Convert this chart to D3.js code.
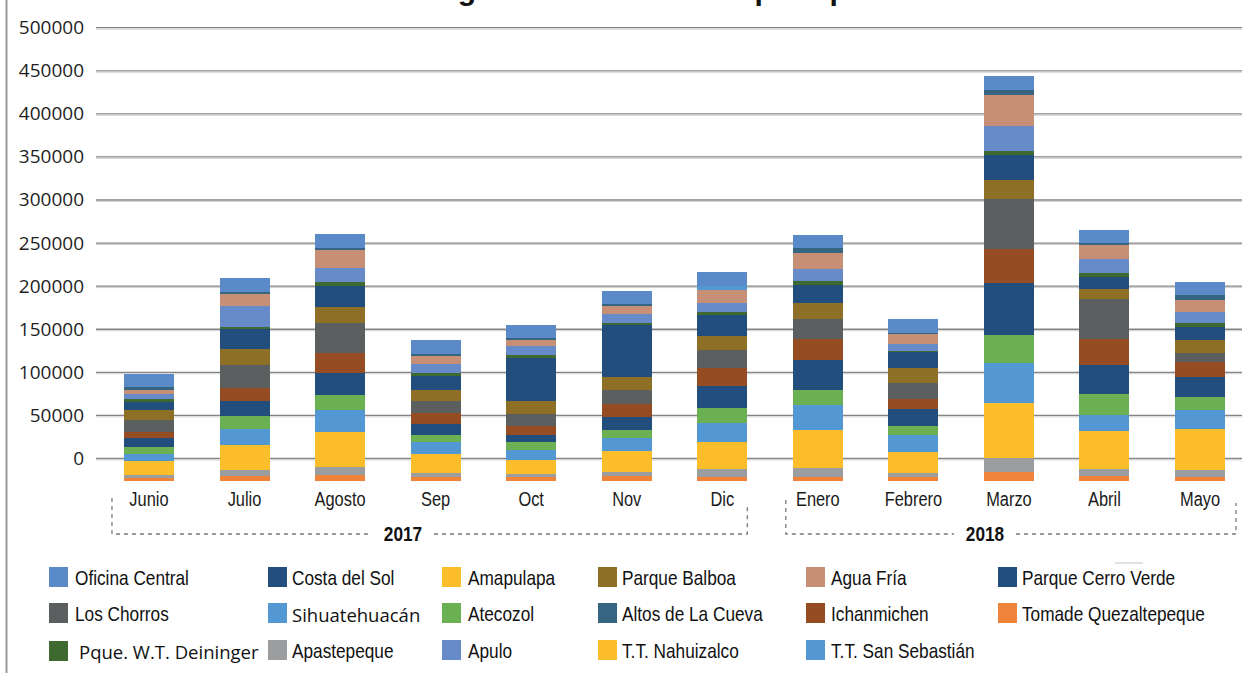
<!DOCTYPE html>
<html><head><meta charset="utf-8">
<script src="https://cdn.jsdelivr.net/npm/d3@7"></script>
<style>
html,body{margin:0;padding:0;background:#fff;}
svg{display:block;}
.narrow{font-family:"Liberation Sans Narrow","Arial Narrow","Liberation Sans",Arial,sans-serif;}
.myriad{font-family:"Open Sans","Noto Sans",sans-serif;}
</style></head><body>
<svg id="chart" width="1242" height="673"></svg>
<script>
// ---------- data ----------
const months2017 = ["Junio","Julio","Agosto","Sep","Oct","Nov","Dic"];
const months2018 = ["Enero","Febrero","Marzo","Abril","Mayo"];
const months = months2017.concat(months2018);
const yearLabels = ["2017","2018"];
const yTickValues = [0,50000,100000,150000,200000,250000,300000,350000,400000,450000,500000];
const titleText = "Ingresos de visitantes por tipo";

//                              Jun    Jul    Ago    Sep    Oct    Nov    Dic    Ene    Feb    Mar    Abr    May
const tomadeQuezaltepeque = [ 3100,  5500,  7000,  4600,  4600,  5800,  4600,  4600,  4600, 10400,  5800,  5200];
const apastepeque         = [ 3500,  7000,  9300,  4600,  3500,  4600,  9300, 10400,  4600, 16200,  8100,  7000];
const amapulapa           = [16200, 29000, 40600, 22100, 16200, 24400, 31300, 44100, 24400, 63800, 44100, 47600];
const ttNahuizalco        = [    0,     0,     0,     0,     0,     0,     0,     0,     0,     0,     0,     0];
const sihuatehuacan       = [ 8100, 18600, 25500, 13900, 11600, 15100, 22100, 29000, 19700, 46400, 18600, 22100];
const atecozol            = [ 8100, 15100, 17400,  8100,  9300,  9300, 17400, 17400, 10400, 32500, 24400, 15100];
const costaDelSol         = [10400, 17400, 25500, 12800,  8100, 15100, 25500, 34800, 19700, 60400, 33700, 23200];
const ichanmichen         = [ 7800, 15100, 23200, 12800, 10400, 15100, 20900, 24400, 11600, 39500, 30200, 17400];
const losChorros          = [13100, 26700, 34800, 13900, 13900, 16200, 20900, 23200, 18600, 58000, 46400, 10400];
const parqueBalboa        = [11600, 18600, 18600, 12800, 15100, 15100, 16200, 18600, 17400, 22100, 11600, 15100];
const parqueCerroVerde    = [ 9300, 23200, 24400, 16200, 49900, 60400, 24400, 20900, 18600, 29000, 13900, 16200];
const pqueDeininger       = [ 3500,  2300,  4600,  3500,  3500,  2300,  3500,  4600,  1200,  4600,  4600,  4600];
const apulo               = [ 5800, 24400, 16200, 10400, 10400, 10400, 10400, 13900,  8100, 29000, 16200, 12800];
const aguaFria            = [ 5500, 13900, 20900,  9300,  7000,  9300, 15100, 18600, 11600, 36000, 16200, 13900];
const altosLaCueva        = [ 2700,  2300,  2300,  2300,  2300,  2300,     0,  5800,  1200,  5800,  2300,  5800];
const ttSanSebastian      = [    0,     0,     0,     0,     0,     0,  4600,     0,     0,     0,     0,     0];
const oficinaCentral      = [15100, 16200, 16200, 16200, 15100, 15100, 16200, 15100, 16200, 16200, 15100, 15100];

// stacking order, bottom -> top
const stackSeries = [
  ["Tomade Quezaltepeque", tomadeQuezaltepeque],
  ["Apastepeque", apastepeque],
  ["Amapulapa", amapulapa],
  ["T.T. Nahuizalco", ttNahuizalco],
  ["Sihuatehuacán", sihuatehuacan],
  ["Atecozol", atecozol],
  ["Costa del Sol", costaDelSol],
  ["Ichanmichen", ichanmichen],
  ["Los Chorros", losChorros],
  ["Parque Balboa", parqueBalboa],
  ["Parque Cerro Verde", parqueCerroVerde],
  ["Pque. W.T. Deininger", pqueDeininger],
  ["Apulo", apulo],
  ["Agua Fría", aguaFria],
  ["Altos de La Cueva", altosLaCueva],
  ["T.T. San Sebastián", ttSanSebastian],
  ["Oficina Central", oficinaCentral]
];

// legend order (row by row)
const legendNames = [
  "Oficina Central","Costa del Sol","Amapulapa","Parque Balboa","Agua Fría","Parque Cerro Verde",
  "Los Chorros","Sihuatehuacán","Atecozol","Altos de La Cueva","Ichanmichen","Tomade Quezaltepeque",
  "Pque. W.T. Deininger","Apastepeque","Apulo","T.T. Nahuizalco","T.T. San Sebastián"
];

const colorOf = {
  "Oficina Central":"#5a8ac7",
  "Costa del Sol":"#224e7d",
  "Amapulapa":"#fcbd2a",
  "Parque Balboa":"#8e6f26",
  "Agua Fría":"#c78f76",
  "Parque Cerro Verde":"#224e7d",
  "Los Chorros":"#5b5f5f",
  "Sihuatehuacán":"#5398d2",
  "Atecozol":"#6bb053",
  "Altos de La Cueva":"#356580",
  "Ichanmichen":"#964c22",
  "Tomade Quezaltepeque":"#f0833a",
  "Pque. W.T. Deininger":"#3e6a32",
  "Apastepeque":"#9c9d9e",
  "Apulo":"#678bc9",
  "T.T. Nahuizalco":"#fcbd2a",
  "T.T. San Sebastián":"#5398d2"
};

// ---------- build ----------
const svg = d3.select("#chart");
const W = 1242;

const table = months.map((m, i) => {
  const row = {month: m};
  stackSeries.forEach(([name, vals]) => row[name] = vals[i]);
  return row;
});
const keys = stackSeries.map(s => s[0]);
const stacked = d3.stack().keys(keys)(table);

const x = d3.scaleBand().domain(months).range([101.2, 1247.8]).paddingInner(0.4767).paddingOuter(0.2383);
const yGrid = d3.scaleLinear().domain([0, 500000]).range([458, 27.2]);
const yBar  = d3.scaleLinear().domain([0, 500000]).range([481, 50.2]);

// left frame line
svg.append("line").attr("x1", 6.5).attr("x2", 6.5).attr("y1", 0).attr("y2", 673)
  .attr("stroke", "#9a9a9a").attr("stroke-width", 2);

// title (cropped at the top edge, as in the reference: only descenders show)
svg.append("text").attr("x", 431).attr("y", 0)
  .attr("font-family", "Liberation Sans, Arial, sans-serif").attr("font-weight", "bold")
  .attr("font-size", 30).attr("fill", "#111").text(titleText);

// gridlines + y labels
const yAxis = d3.axisLeft(yGrid).tickValues(yTickValues).tickFormat(d3.format("d"))
  .tickSize(-(W - 96)).tickPadding(12);
const gAxis = svg.append("g").attr("transform", "translate(96,0)").call(yAxis);
gAxis.select(".domain").remove();
gAxis.selectAll(".tick line").attr("stroke", "#858585").attr("stroke-width", 1.3);
gAxis.selectAll(".tick").append("line").attr("x1", 0).attr("x2", W - 96)
  .attr("y1", 1.4).attr("y2", 1.4).attr("stroke", "#cfcfcf").attr("stroke-width", 1);
gAxis.selectAll(".tick text").attr("class", "myriad").attr("font-size", 19).attr("fill", "#1e1e1e")
  .attr("font-family", null).attr("dy", "0.34em");

// bars
svg.append("g").selectAll("g").data(stacked).join("g")
  .attr("fill", d => colorOf[d.key])
  .selectAll("rect").data(d => d).join("rect")
  .attr("x", d => x(d.data.month))
  .attr("width", x.bandwidth())
  .attr("y", d => yBar(d[1]))
  .attr("height", d => Math.max(0, yBar(d[0]) - yBar(d[1])))
  .attr("shape-rendering", "crispEdges");

// month labels
const narrowTexts = [];
svg.append("g").selectAll("text").data(months).join("text")
  .attr("class", "narrow")
  .attr("x", d => x(d) + x.bandwidth() / 2).attr("y", 505.5)
  .attr("text-anchor", "middle").attr("font-size", 20).attr("fill", "#1a1a1a")
  .text(d => d).each(function(){ narrowTexts.push(this); });

// year brackets
const bw = x.bandwidth();
const brackets = [
  {label: yearLabels[0], left: x(months2017[0]) - 12, right: x(months2017[months2017.length-1]) + bw, tx: 403, topL: 498, topR: 505},
  {label: yearLabels[1], left: x(months2018[0]) - 7, right: x(months2018[months2018.length-1]) + bw + 11, tx: 985, topL: 500, topR: 503}
];
const by = 534;
brackets.forEach(b => {
  const g = svg.append("g");
  const t = g.append("text").attr("class", "narrow").attr("x", b.tx).attr("y", by + 7)
    .attr("text-anchor", "middle").attr("font-size", 21).attr("font-weight", "bold").attr("fill", "#111")
    .text(b.label);
  narrowTexts.push(t.node());
  const half = 31;
  const path = `M${b.left},${b.topL}V${by}H${b.tx - half} M${b.tx + half},${by}H${b.right}V${b.topR}`;
  g.append("path").attr("d", path).attr("fill", "none").attr("stroke", "#7a7a7a")
    .attr("stroke-width", 1.3).attr("stroke-dasharray", "4,4");
});

// legend
const swatchX = [49, 268, 442, 598, 806, 998];
const textX   = [75, 292, 468, 622, 831, 1022];
const rowY    = [567, 603, 640];
const lg = svg.append("g");
legendNames.forEach((name, i) => {
  const c = i % 6, r = Math.floor(i / 6);
  const special = (name === "Sihuatehuacán" || name === "Pque. W.T. Deininger");
  lg.append("rect").attr("x", swatchX[c]).attr("y", rowY[r] + (name === "Pque. W.T. Deininger" ? 1 : 0))
    .attr("width", 19).attr("height", 20).attr("fill", colorOf[name]);
  const t = lg.append("text")
    .attr("x", textX[c] + (name === "Pque. W.T. Deininger" ? 4 : 0))
    .attr("y", rowY[r] + 18 + (special ? 1 : 0))
    .attr("class", special ? "myriad" : "narrow")
    .attr("font-size", special ? 18.5 : 21).attr("fill", "#111").text(name);
  if (!special) narrowTexts.push(t.node());
});

// small artefact line near legend
svg.append("line").attr("x1", 1115).attr("x2", 1143).attr("y1", 563).attr("y2", 563)
  .attr("stroke", "#c4c4c4").attr("stroke-width", 1);

// fallback: if no narrow face is installed, compress the regular face
(function(){
  const probe1 = svg.append("text").attr("font-size", 20).attr("class", "narrow").text("Oficina Central Mayo");
  const probe2 = svg.append("text").attr("font-size", 20).attr("font-family", "Liberation Sans, Arial").text("Oficina Central Mayo");
  const w1 = probe1.node().getComputedTextLength(), w2 = probe2.node().getComputedTextLength();
  probe1.remove(); probe2.remove();
  if (w1 / w2 > 0.93) {
    narrowTexts.forEach(n => {
      const L = n.getComputedTextLength();
      n.setAttribute("textLength", L * 0.82);
      n.setAttribute("lengthAdjust", "spacingAndGlyphs");
    });
  }
})();
</script>
</body></html>
